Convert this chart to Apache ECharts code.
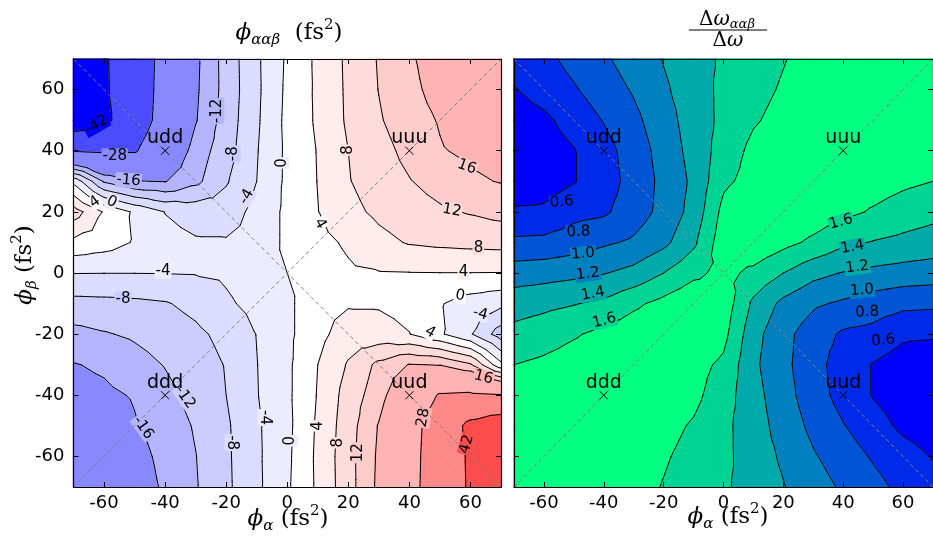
<!DOCTYPE html>
<html>
<head>
<meta charset="utf-8">
<script src="https://cdn.jsdelivr.net/npm/echarts@6/dist/echarts.min.js"></script>
<style>
  html, body { margin: 0; padding: 0; background: #fff; }
  #chart { width: 933px; height: 539px; }
</style>
</head>
<body>
<div id="chart"></div>
<script>
// grid of the two maps (fs^2)
var phiAlpha = [-70, -60, -50, -40, -30, -20, -10, 0, 10, 20, 30, 40, 50, 60, 70];
var phiBeta = [70, 60, 50, 40, 30, 20, 10, 0, -10, -20, -30, -40, -50, -60, -70];
var tickVals = [-60, -40, -20, 0, 20, 40, 60];

// phi_aab (fs^2), one row per phiBeta value
var phiRows = [
  [-52, -43.5, -33.8, -24.9, -16.9, -10.4, -4.7, 0.6, 4.8, 8.8, 12.3, 15.4, 18.2, 20.6, 22.8],
  [-50, -43.7, -33.8, -24.6, -16.7, -10.5, -4.8, 0.8, 4.7, 8.7, 12.1, 14.9, 17.5, 19.8, 21.8],
  [-50, -45, -33.3, -24.2, -16.3, -10.2, -4.6, 1.0, 4.6, 8.6, 11.6, 14.3, 16.3, 18.3, 20.0],
  [-28.5, -29.5, -28.8, -21.4, -14.2, -9.7, -4.25, 0.8, 4.2, 8.0, 10.5, 13.2, 15.7, 16.8, 17.4],
  [-1, -12.5, -15.8, -16.2, -13, -8.4, -4, 0.8, 4.1, 7.8, 9.8, 11.8, 13.6, 15.4, 16.2],
  [10, 3.6, -0.6, -4.1, -5.5, -6, -2.8, 0.9, 3.9, 6.9, 8.8, 10.1, 11.4, 12.3, 13.2],
  [3, 1.8, -0.3, -2.8, -3.6, -3.6, -2.8, 0.9, 2.8, 4.6, 6.9, 8.3, 8.8, 9.1, 9.3],
  [-3.9, -3.95, -3.95, -3.9, -3.8, -3.4, -1.8, 0, 1.8, 3.4, 3.8, 3.9, 3.95, 3.95, 3.9],
  [-9.3, -9.1, -8.8, -8.3, -6.9, -4.6, -2.8, -0.9, 2.8, 3.6, 3.6, 2.8, 0.3, -1.8, -3],
  [-13.2, -12.3, -11.4, -10.1, -8.8, -6.9, -3.9, -0.9, 2.8, 6, 5.5, 4.1, 0.6, -3.6, -10],
  [-16.2, -15.4, -13.6, -11.8, -9.8, -7.8, -4.1, -0.8, 4, 8.4, 13, 16.2, 15.8, 12.5, 1],
  [-17.4, -16.8, -15.7, -13.2, -10.5, -8.0, -4.2, -0.8, 4.25, 9.7, 14.2, 21.4, 28.8, 29.5, 28.5],
  [-20, -18.3, -16.3, -14.3, -11.6, -8.6, -4.6, -1.0, 4.6, 10.2, 16.3, 24.2, 33.3, 45, 50],
  [-21.8, -19.8, -17.5, -14.9, -12.1, -8.7, -4.7, -0.8, 4.8, 10.5, 16.7, 24.6, 33.8, 43.7, 50],
  [-22.8, -20.6, -18.2, -15.4, -12.3, -8.8, -4.8, -0.6, 4.7, 10.4, 16.9, 24.9, 33.8, 43.5, 52]
];
var phiLevels = [-42, -28, -16, -12, -8, -4, 0, 4, 8, 12, 16, 28, 42];
var phiColors = ['#0000ff', '#4c4cff', '#8888ff', '#b4b4ff', '#ccccff', '#dcdcff', '#ececff',
  '#ffffff', '#ffecec', '#ffdcdc', '#ffcccc', '#ffb4b4', '#ff8888', '#ff4c4c'];

// bandwidth ratio, same grid
var ratioRows = [
  [0.66, 0.75, 0.86, 0.97, 1.09, 1.21, 1.32, 1.43, 1.51, 1.59, 1.67, 1.73, 1.78, 1.81, 1.83],
  [0.59, 0.68, 0.78, 0.9, 1.02, 1.17, 1.3, 1.45, 1.54, 1.62, 1.7, 1.75, 1.78, 1.8, 1.81],
  [0.5, 0.56, 0.68, 0.81, 0.95, 1.12, 1.29, 1.45, 1.58, 1.66, 1.72, 1.76, 1.78, 1.79, 1.8],
  [0.42, 0.5, 0.59, 0.73, 0.89, 1.08, 1.27, 1.49, 1.65, 1.72, 1.76, 1.78, 1.79, 1.79, 1.79],
  [0.44, 0.5, 0.59, 0.7, 0.88, 1.05, 1.24, 1.56, 1.67, 1.74, 1.76, 1.73, 1.69, 1.64, 1.6],
  [0.63, 0.64, 0.74, 0.77, 0.9, 1.06, 1.27, 1.66, 1.8, 1.78, 1.72, 1.65, 1.58, 1.51, 1.46],
  [0.84, 0.85, 0.9, 0.97, 1.03, 1.15, 1.36, 1.72, 1.76, 1.66, 1.56, 1.44, 1.39, 1.35, 1.31],
  [1.1, 1.12, 1.15, 1.19, 1.26, 1.4, 1.55, 1.66, 1.55, 1.4, 1.26, 1.19, 1.15, 1.12, 1.1],
  [1.31, 1.35, 1.39, 1.44, 1.56, 1.66, 1.76, 1.72, 1.36, 1.15, 1.03, 0.97, 0.9, 0.85, 0.84],
  [1.46, 1.51, 1.58, 1.65, 1.72, 1.78, 1.8, 1.66, 1.27, 1.06, 0.9, 0.77, 0.74, 0.64, 0.63],
  [1.6, 1.64, 1.69, 1.73, 1.76, 1.74, 1.67, 1.56, 1.24, 1.05, 0.88, 0.7, 0.59, 0.5, 0.44],
  [1.79, 1.79, 1.79, 1.78, 1.76, 1.72, 1.65, 1.49, 1.27, 1.08, 0.89, 0.73, 0.59, 0.5, 0.42],
  [1.8, 1.79, 1.78, 1.76, 1.72, 1.66, 1.58, 1.45, 1.29, 1.12, 0.95, 0.81, 0.68, 0.56, 0.5],
  [1.81, 1.8, 1.78, 1.75, 1.7, 1.62, 1.54, 1.45, 1.3, 1.17, 1.02, 0.9, 0.78, 0.68, 0.59],
  [1.83, 1.81, 1.78, 1.73, 1.67, 1.59, 1.51, 1.43, 1.32, 1.21, 1.09, 0.97, 0.86, 0.75, 0.66]
];
var ratioLevels = [0.6, 0.8, 1.0, 1.2, 1.4, 1.6];
var ratioColors = ['#0000ff', '#002aea', '#0055d5', '#0080bf', '#00aaaa', '#00d495', '#00ff80'];

// marked chirp combinations
var markNames = ['udd', 'uuu', 'ddd', 'uud'];
var markAlpha = [-40, 40, -40, 40];
var markBeta = [40, 40, -40, -40];

// inline contour labels: [phiAlpha, phiBeta, text, rotation]
var phiLabels = [
  [-62.5, 48.4, '-42', 30], [-56.5, 38.3, '-28', 0], [-52, 30.3, '-16', -5],
  [-63, 23.2, '4', 35], [-57.5, 23.2, '0', -25], [-23.1, 53, '-12', 90],
  [-17.7, 39, '-8', 90], [-13.3, 24.9, '-4', 60], [-1.8, 36, '0', 90],
  [20, 40.2, '8', 90], [10.7, 16.1, '4', -60], [58.8, 34.7, '16', -20],
  [53.9, 20.5, '12', -10], [62.6, 8.3, '8', 0], [57.7, 0.3, '4', 0],
  [-40.7, 0.5, '-4', 0], [-53.8, -8.5, '-8', 0], [-47.2, -50.6, '-16', -55],
  [-33.5, -40.7, '-12', -55], [-18.2, -55.5, '-8', -90], [-7.3, -47.3, '-4', -90],
  [1.1, -54.9, '0', 90], [10.2, -50, '4', 90], [16.7, -55.5, '8', 90],
  [23.3, -58.8, '12', 90], [44.6, -47.3, '28', 80], [58.8, -56, '42', 75],
  [64.3, -34.2, '16', -15], [46.8, -19.4, '4', -30], [56.6, -7.4, '0', -10],
  [63.2, -13.4, '-4', -15]
];
var ratioLabels = [
  [-54, 23.2, '0.6', 5], [-48.5, 13.4, '0.8', 3], [-46.9, 6.3, '1.0', 5],
  [-45.3, -0.3, '1.2', 7], [-43.6, -6.8, '1.4', 10], [-39.8, -15.6, '1.6', 15],
  [39.3, 16.7, '1.6', 15], [43.1, 8.5, '1.4', 10], [44.7, 1.9, '1.2', 7],
  [46.3, -5.7, '1.0', 5], [48, -12.8, '0.8', 3], [53.4, -22.1, '0.6', 5]
];

var chart = echarts.init(document.getElementById('chart'));

function cells(rows) {
  var out = [];
  for (var i = 0; i < phiBeta.length - 1; i++) {
    for (var j = 0; j < phiAlpha.length - 1; j++) {
      out.push([phiAlpha[j], phiAlpha[j + 1], phiBeta[i], phiBeta[i + 1],
        rows[i][j], rows[i][j + 1], rows[i + 1][j], rows[i + 1][j + 1]]);
    }
  }
  return out;
}

// keep the part of a polygon above (or below) a level
function clip(poly, level, above) {
  var out = [];
  for (var i = 0; i < poly.length; i++) {
    var a = poly[i], b = poly[(i + 1) % poly.length];
    var ain = above ? a.v >= level : a.v < level;
    var bin = above ? b.v >= level : b.v < level;
    if (ain) out.push(a);
    if (ain !== bin) {
      var t = (level - a.v) / (b.v - a.v);
      out.push({ p: [a.p[0] + t * (b.p[0] - a.p[0]), a.p[1] + t * (b.p[1] - a.p[1])], v: level });
    }
  }
  return out;
}

function cellTriangles(api) {
  var xl = api.value(0), xr = api.value(1), yt = api.value(2), yb = api.value(3);
  var pts = [
    { p: api.coord([xl, yt]), v: api.value(4) },
    { p: api.coord([xr, yt]), v: api.value(5) },
    { p: api.coord([xr, yb]), v: api.value(7) },
    { p: api.coord([xl, yb]), v: api.value(6) }
  ];
  var c = {
    p: [(pts[0].p[0] + pts[1].p[0]) / 2, (pts[0].p[1] + pts[3].p[1]) / 2],
    v: (pts[0].v + pts[1].v + pts[2].v + pts[3].v) / 4
  };
  var tris = [];
  for (var t = 0; t < 4; t++) tris.push([pts[t], pts[(t + 1) % 4], c]);
  return tris;
}

function fillRenderer(levels, colors) {
  return function (params, api) {
    var children = [];
    cellTriangles(api).forEach(function (tri) {
      for (var k = 0; k < colors.length; k++) {
        var poly = tri;
        if (k > 0) poly = clip(poly, levels[k - 1], true);
        if (k < levels.length && poly.length) poly = clip(poly, levels[k], false);
        if (poly.length >= 3) {
          children.push({
            type: 'polygon', silent: true,
            shape: { points: poly.map(function (q) { return q.p; }) },
            style: { fill: colors[k], stroke: colors[k], lineWidth: 1.5, lineJoin: 'round' }
          });
        }
      }
    });
    return { type: 'group', children: children };
  };
}

function lineRenderer(levels) {
  return function (params, api) {
    var children = [];
    cellTriangles(api).forEach(function (tri) {
      levels.forEach(function (L) {
        var hits = [];
        for (var e = 0; e < 3; e++) {
          var a = tri[e], b = tri[(e + 1) % 3];
          if ((a.v >= L) !== (b.v >= L)) {
            var t = (L - a.v) / (b.v - a.v);
            hits.push([a.p[0] + t * (b.p[0] - a.p[0]), a.p[1] + t * (b.p[1] - a.p[1])]);
          }
        }
        if (hits.length === 2) {
          children.push({
            type: 'line', silent: true,
            shape: { x1: hits[0][0], y1: hits[0][1], x2: hits[1][0], y2: hits[1][1] },
            style: { stroke: '#000', lineWidth: 1, lineCap: 'round' }
          });
        }
      });
    });
    return { type: 'group', children: children };
  };
}

function valueAt(rows, x, y) {
  var j = (x - phiAlpha[0]) / 10, i = (phiBeta[0] - y) / 10;
  var j0 = Math.max(0, Math.min(13, Math.floor(j))), i0 = Math.max(0, Math.min(13, Math.floor(i)));
  var fx = j - j0, fy = i - i0;
  return rows[i0][j0] * (1 - fx) * (1 - fy) + rows[i0][j0 + 1] * fx * (1 - fy) +
    rows[i0 + 1][j0] * (1 - fx) * fy + rows[i0 + 1][j0 + 1] * fx * fy;
}

function bandColor(levels, colors, v) {
  var k = 0;
  while (k < levels.length && v >= levels[k]) k++;
  return colors[k];
}

function labelRenderer(labels, rows, levels, colors) {
  return function (params, api) {
    var lab = labels[params.dataIndex];
    var p = api.coord([lab[0], lab[1]]);
    return {
      type: 'text', silent: true, x: p[0], y: p[1], rotation: lab[3] * Math.PI / 180,
      style: {
        text: lab[2], fontSize: 15, fontFamily: 'DejaVu Sans', fill: '#000',
        align: 'center', verticalAlign: 'middle',
        backgroundColor: bandColor(levels, colors, valueAt(rows, lab[0], lab[1])),
        padding: [0, 1]
      }
    };
  };
}

function markRenderer(params, api) {
  var p = api.coord([api.value(0), api.value(1)]);
  var s = 4;
  return {
    type: 'group', children: [
      { type: 'line', shape: { x1: p[0] - s, y1: p[1] - s, x2: p[0] + s, y2: p[1] + s }, style: { stroke: '#000', lineWidth: 1 } },
      { type: 'line', shape: { x1: p[0] - s, y1: p[1] + s, x2: p[0] + s, y2: p[1] - s }, style: { stroke: '#000', lineWidth: 1 } },
      { type: 'text', x: p[0], y: p[1] - 3, style: { text: markNames[params.dataIndex], fontSize: 19, fontFamily: 'DejaVu Sans', fill: '#000', align: 'center', verticalAlign: 'bottom' } }
    ]
  };
}

function xAx(grid, pos, labels) {
  return {
    type: 'value', gridIndex: grid, position: pos, min: -70, max: 70, z: 10,
    axisLine: { show: true, onZero: false, lineStyle: { color: '#000', width: 1.2 } },
    axisTick: { show: true, inside: true, length: 5, customValues: tickVals, lineStyle: { color: '#000' } },
    axisLabel: { show: labels, customValues: tickVals, color: '#000', fontSize: 18, fontFamily: 'DejaVu Sans', margin: 7 },
    splitLine: { show: false }
  };
}
function yAx(grid, pos, labels) {
  var a = xAx(grid, pos, labels);
  a.axisLabel.margin = 9;
  return a;
}

function panelSeries(g, rows, levels, colors, labels) {
  var data = cells(rows);
  var marks = markAlpha.map(function (a, i) { return [a, markBeta[i]]; });
  return [
    { type: 'custom', xAxisIndex: 2 * g, yAxisIndex: 2 * g, z: 1, silent: true, animation: false,
      renderItem: fillRenderer(levels, colors), data: data, encode: { x: [0, 1], y: [2, 3] } },
    { type: 'custom', xAxisIndex: 2 * g, yAxisIndex: 2 * g, z: 2, silent: true, animation: false,
      renderItem: lineRenderer(levels), data: data, encode: { x: [0, 1], y: [2, 3] } },
    { type: 'custom', xAxisIndex: 2 * g, yAxisIndex: 2 * g, z: 3, silent: true, animation: false,
      renderItem: labelRenderer(labels, rows, levels, colors),
      data: labels.map(function (l) { return [l[0], l[1]]; }) },
    { type: 'line', xAxisIndex: 2 * g, yAxisIndex: 2 * g, z: 4, silent: true, animation: false, symbol: 'none',
      lineStyle: { color: '#7f7f7f', width: 1, type: [4, 3] }, data: [[-70, -70], [70, 70]] },
    { type: 'line', xAxisIndex: 2 * g, yAxisIndex: 2 * g, z: 4, silent: true, animation: false, symbol: 'none',
      lineStyle: { color: '#7f7f7f', width: 1, type: [4, 3] }, data: [[-70, 70], [70, -70]] },
    { type: 'custom', xAxisIndex: 2 * g, yAxisIndex: 2 * g, z: 5, silent: true, animation: false,
      renderItem: markRenderer, data: marks }
  ];
}

var serif = 'DejaVu Serif';
var mathRich = {
  m: { fontFamily: serif, fontStyle: 'italic', fontSize: 23, lineHeight: 30 },
  r: { fontFamily: serif, fontSize: 23, lineHeight: 30 },
  s: { fontFamily: serif, fontStyle: 'italic', fontSize: 15, lineHeight: 15, verticalAlign: 'bottom' },
  p: { fontFamily: serif, fontSize: 15, lineHeight: 15, verticalAlign: 'top' }
};
var fracRich = {
  m: { fontFamily: serif, fontStyle: 'italic', fontSize: 20, lineHeight: 22 },
  r: { fontFamily: serif, fontSize: 20, lineHeight: 22 },
  s: { fontFamily: serif, fontStyle: 'italic', fontSize: 13, lineHeight: 12, verticalAlign: 'bottom' }
};

chart.setOption({
  animation: false,
  grid: [
    { left: 73.5, top: 59, width: 427.5, height: 428 },
    { left: 514, top: 59, width: 428, height: 428 }
  ],
  xAxis: [xAx(0, 'bottom', true), xAx(0, 'top', false), xAx(1, 'bottom', true), xAx(1, 'top', false)],
  yAxis: [yAx(0, 'left', true), yAx(0, 'right', false), yAx(1, 'left', false), yAx(1, 'right', false)],
  graphic: [
    { type: 'text', x: 289, y: 33, style: { text: '{m|ϕ}{s|ααβ}{r|  (fs}{p|2}{r|)}', rich: mathRich, align: 'center', verticalAlign: 'middle' } },
    { type: 'text', x: 727, y: 20, style: { text: '{r|Δ}{m|ω}{s|ααβ}', rich: fracRich, align: 'center', verticalAlign: 'middle' } },
    { type: 'line', shape: { x1: 689, y1: 30, x2: 767, y2: 30 }, style: { stroke: '#000', lineWidth: 1 } },
    { type: 'text', x: 728, y: 41, style: { text: '{r|Δ}{m|ω}', rich: fracRich, align: 'center', verticalAlign: 'middle' } },
    { type: 'text', x: 288, y: 519, style: { text: '{m|ϕ}{s|α}{r| (fs}{p|2}{r|)}', rich: mathRich, align: 'center', verticalAlign: 'middle' } },
    { type: 'text', x: 728, y: 517, style: { text: '{m|ϕ}{s|α}{r| (fs}{p|2}{r|)}', rich: mathRich, align: 'center', verticalAlign: 'middle' } },
    { type: 'text', x: 25, y: 265, rotation: Math.PI / 2, style: { text: '{m|ϕ}{s|β}{r| (fs}{p|2}{r|)}', rich: mathRich, align: 'center', verticalAlign: 'middle' } }
  ],
  series: panelSeries(0, phiRows, phiLevels, phiColors, phiLabels)
    .concat(panelSeries(1, ratioRows, ratioLevels, ratioColors, ratioLabels))
});
</script>
</body>
</html>
